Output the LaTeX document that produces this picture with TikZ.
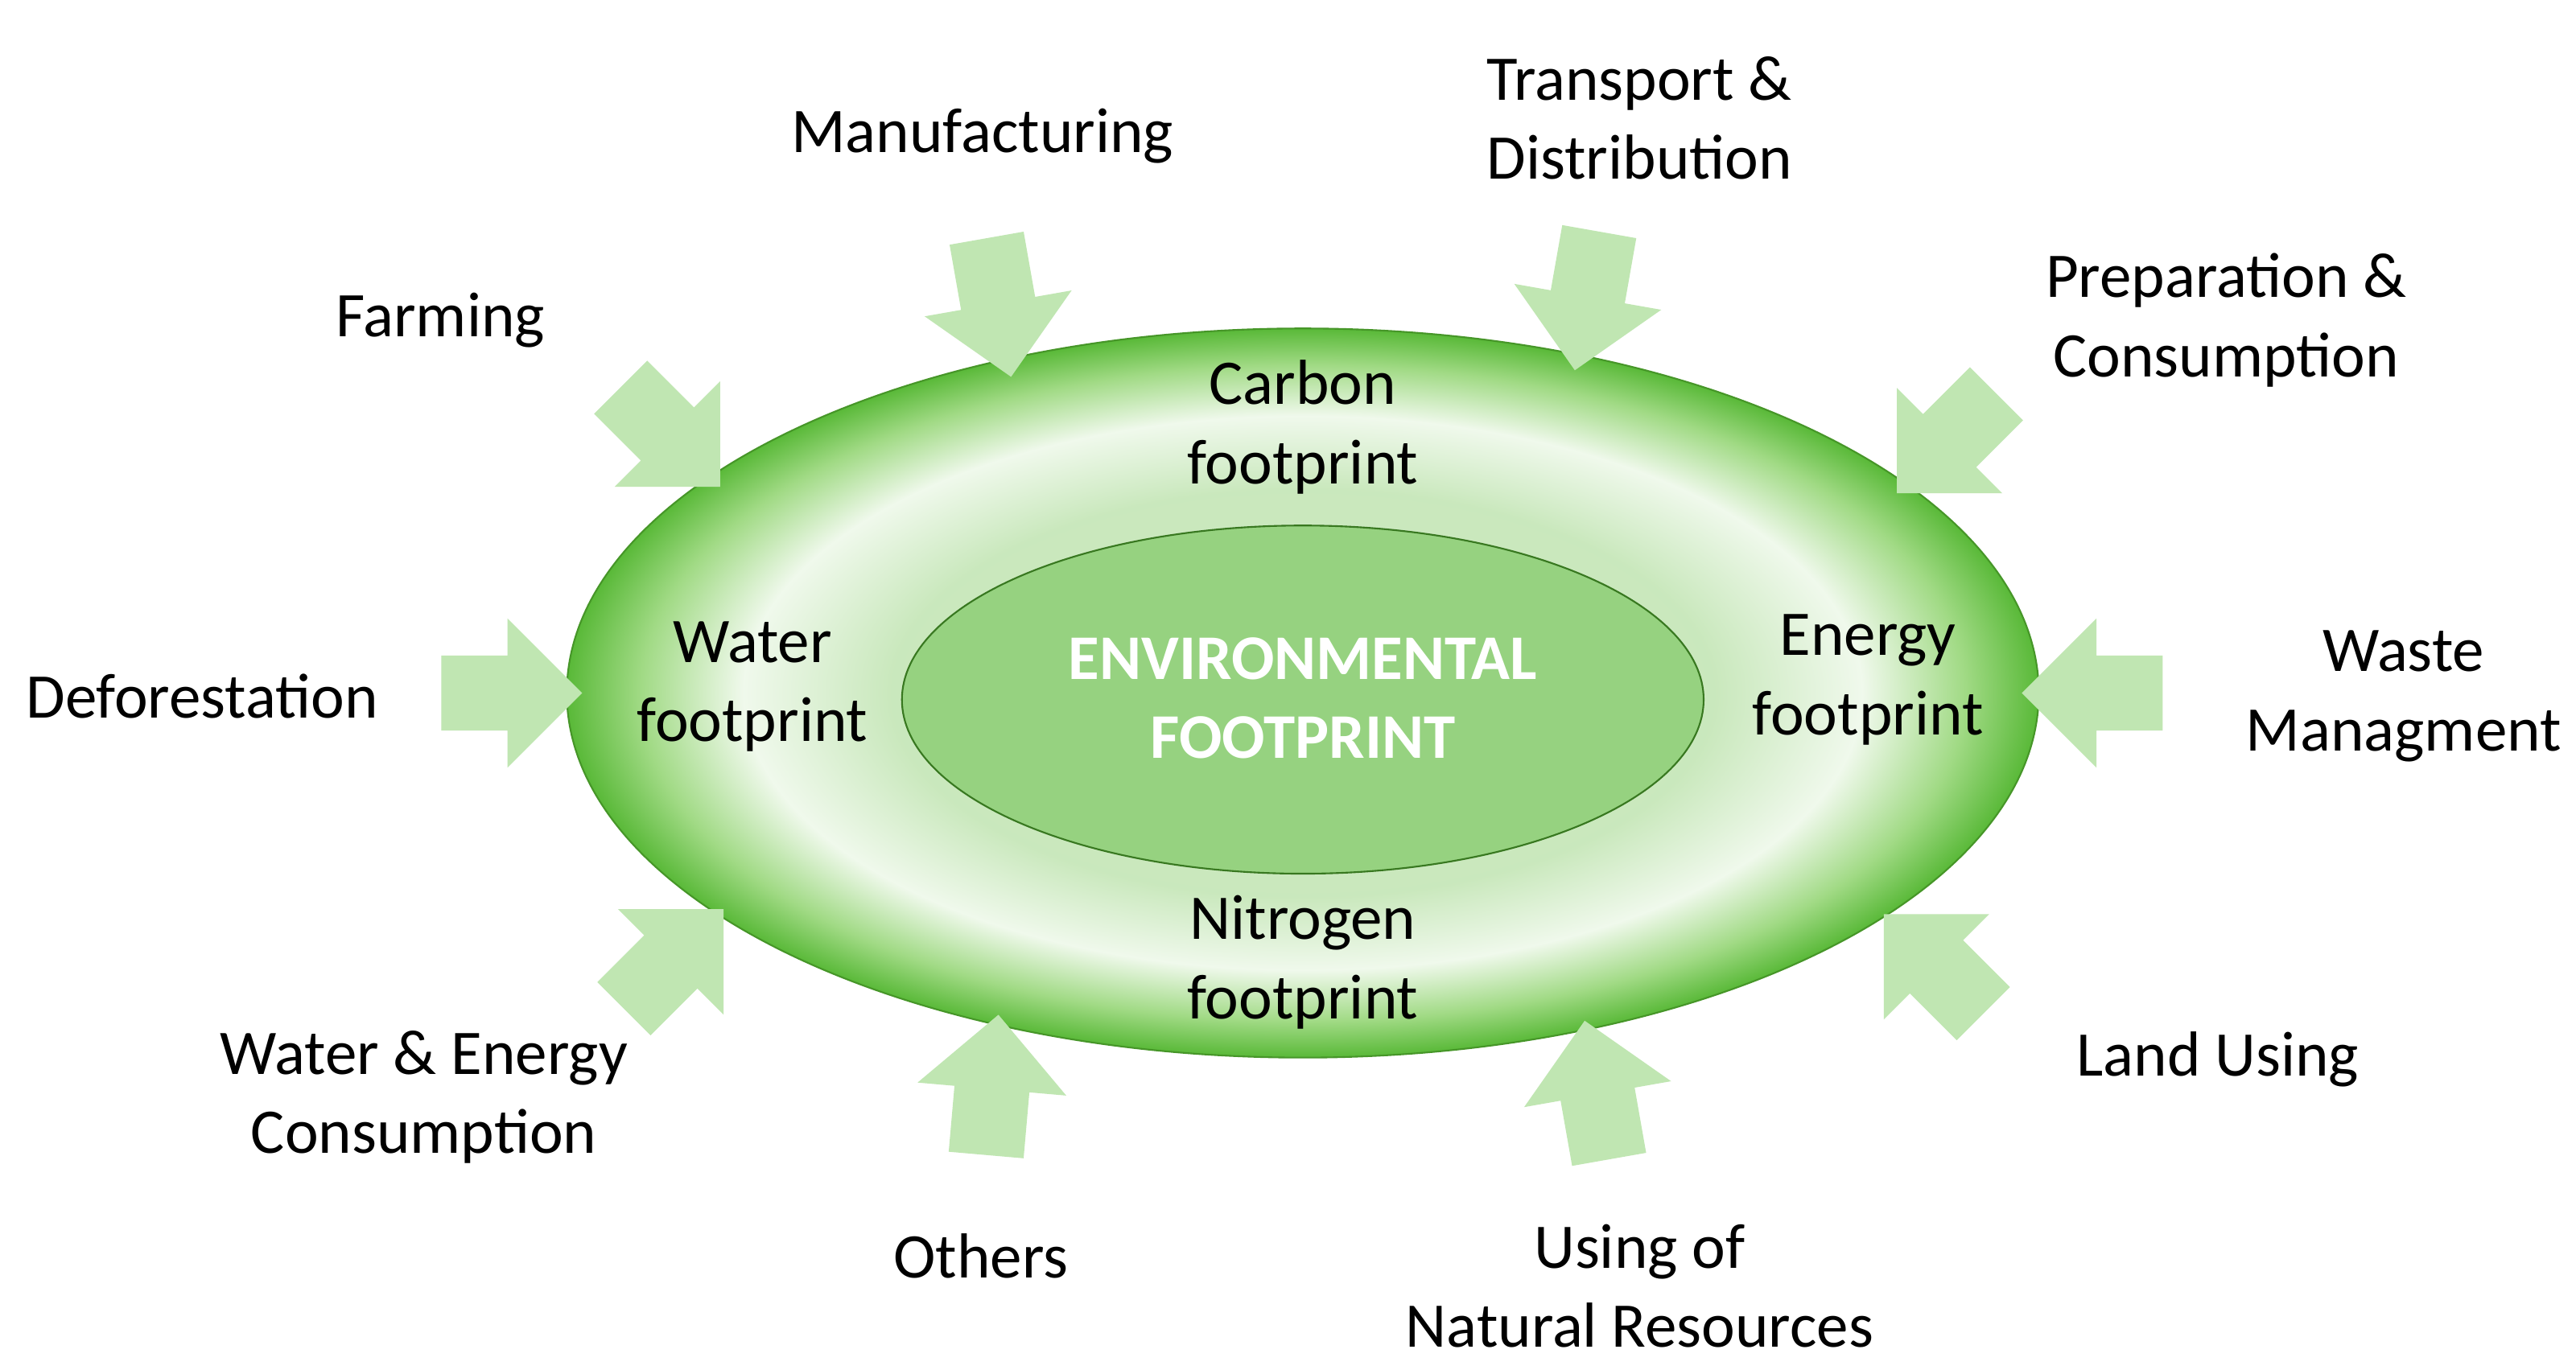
\documentclass[tikz,border=0pt]{standalone}
\usepackage{fontspec}
\setmainfont{Carlito}
\usetikzlibrary{shapes.arrows,shapes.geometric}
\definecolor{arrg}{RGB}{192,230,178}
\definecolor{edgeg}{RGB}{70,150,40}
\definecolor{innerg}{RGB}{150,210,128}
\pgfdeclareradialshading{ringshade}{\pgfpoint{0bp}{0bp}}{%
 rgb(0bp)=(0.80,0.92,0.76);
 rgb(14bp)=(0.79,0.91,0.74);
 rgb(19bp)=(0.94,0.976,0.925);
 rgb(22.5bp)=(0.63,0.855,0.52);
 rgb(25bp)=(0.35,0.725,0.22);
 rgb(50bp)=(0.35,0.725,0.22)}
\tikzset{
 blockarr/.style={single arrow, fill=arrg, draw=none, minimum height=1.75cm,
   minimum width=1.85cm, single arrow head extend=0.46cm, inner xsep=0pt, inner ysep=0.46cm},
 lbl/.style={align=center, font=\fontsize{22.5}{28}\selectfont, text=black},
}
\begin{document}
\begin{tikzpicture}[x=0.02041cm,y=0.02041cm]
\useasboundingbox (0,0) rectangle (1568,834);
\fill[white] (0,0) rectangle (1568,834);
% outer ellipse
\shade[shading=ringshade] (793,412) ellipse [x radius=448, y radius=222];
\draw[edgeg, line width=0.6pt] (793,412) ellipse [x radius=448, y radius=222];
\node[ellipse, draw=edgeg!80!black, fill=innerg, line width=0.6pt,
  minimum width=488*0.02041cm, minimum height=212*0.02041cm] (inner) at (793,408) {};
\node[lbl, text=white, font=\fontsize{22.5}{28}\selectfont\bfseries] (title) at (793,409) {ENVIRONMENTAL\\FOOTPRINT};
\node[lbl] (carbon) at (793,574) {Carbon\\footprint};
\node[lbl] (water) at (458,416) {Water\\footprint};
\node[lbl] (energy) at (1137,420) {Energy\\footprint};
\node[lbl] (nitro) at (793,248) {Nitrogen\\footprint};
% arrows
\node[blockarr, rotate=-80] (a1) at (606,658) {};
\node[blockarr, rotate=-100] (a2) at (968,662) {};
\node[blockarr, rotate=-45] (a3) at (400,576) {};
\node[blockarr, rotate=-135] (a4) at (1193,572) {};
\node[blockarr, rotate=0] (a5) at (300,412) {};
\node[blockarr, rotate=180] (a6) at (1285,412) {};
\node[blockarr, rotate=45] (a7) at (402,242) {};
\node[blockarr, rotate=135] (a8) at (1185,239) {};
\node[blockarr, rotate=85] (a9) at (603,162) {};
\node[blockarr, rotate=100] (a10) at (974,159) {};
% labels
\node[lbl] (manu) at (598,751) {Manufacturing};
\node[lbl] (trans) at (998,762) {Transport \&\\Distribution};
\node[lbl] (farm) at (268,639) {Farming};
\node[lbl] (prep) at (1355,639) {Preparation \&\\Consumption};
\node[lbl] (defo) at (123,410) {Deforestation};
\node[lbl] (waste) at (1463,410) {Waste\\Managment};
\node[lbl] (wec) at (258,166) {Water \& Energy\\Consumption};
\node[lbl] (land) at (1350,189) {Land Using};
\node[lbl] (others) at (597,69) {Others};
\node[lbl] (nat) at (998,51) {Using of\\Natural Resources};
\end{tikzpicture}
\end{document}
